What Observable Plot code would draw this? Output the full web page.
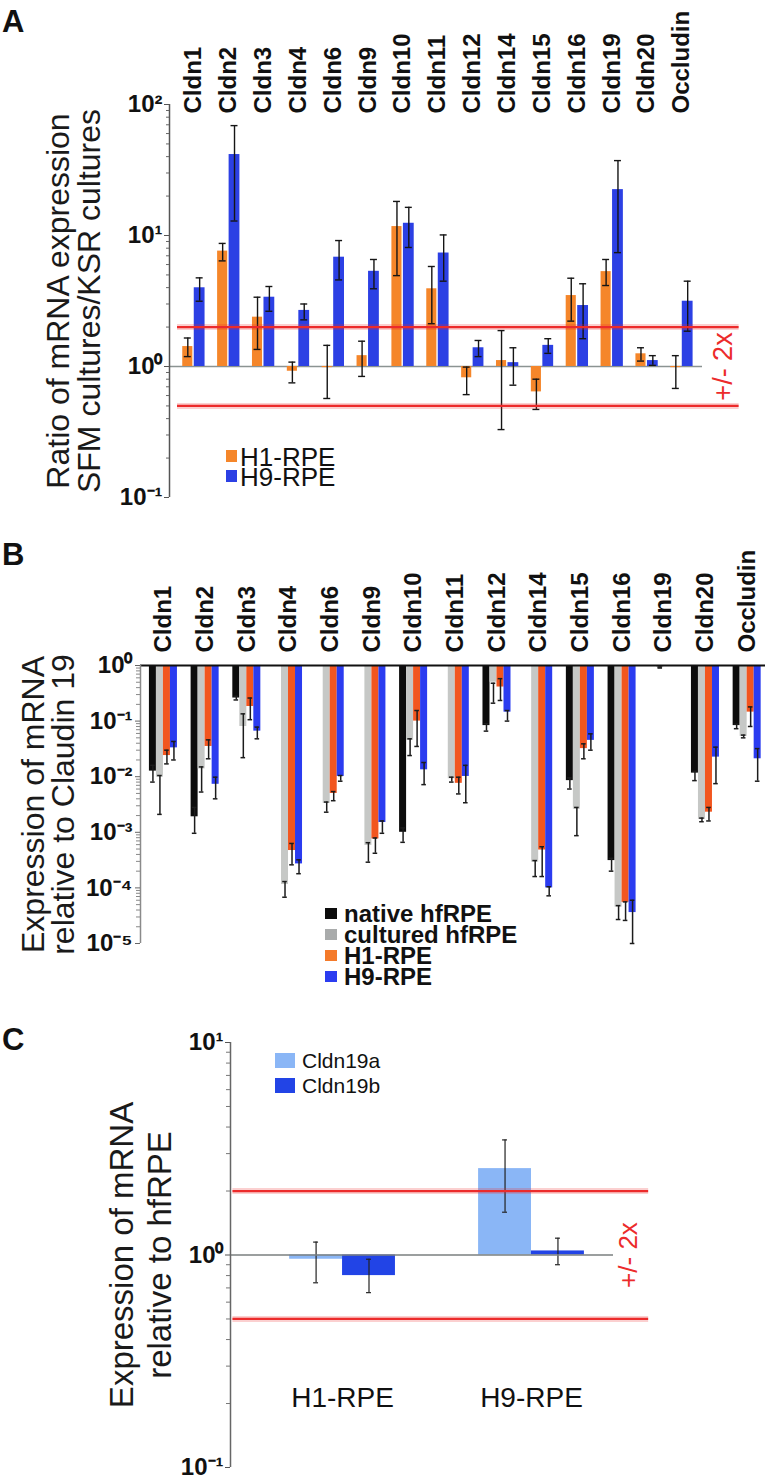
<!DOCTYPE html>
<html><head><meta charset="utf-8">
<script src="https://cdn.jsdelivr.net/npm/d3@7"></script>
<script src="https://cdn.jsdelivr.net/npm/@observablehq/plot@0.6"></script>
<style>
body{margin:0;background:#fff;}
#wrap{position:relative;width:768px;height:1481px;overflow:hidden;font-family:Arial,"Liberation Sans",sans-serif;color:#111;}
#wrap svg{position:absolute;left:0;}
.abs{position:absolute;line-height:1;white-space:nowrap;}
.sw{position:absolute;}
</style></head><body><div id="wrap"></div>
<script>
// ---------- data ----------
const categories = ["Cldn1","Cldn2","Cldn3","Cldn4","Cldn6","Cldn9","Cldn10","Cldn11","Cldn12","Cldn14","Cldn15","Cldn16","Cldn19","Cldn20","Occludin"];

// Panel A: ratio SFM / KSR
const aH1   = [1.42, 7.6, 2.38, 0.92, 0.98, 1.21, 11.7, 3.92, 0.82, 1.11, 0.64, 3.48, 5.3, 1.25, 0.98];
const aH1Lo = [1.19, 6.4, 1.35, 0.75, 0.57, 0.84, 4.94, 2.12, 0.61, 0.33, 0.47, 2.22, 4.15, 1.10, 0.68];
const aH1Hi = [1.65, 8.7, 3.38, 1.08, 1.45, 1.56, 18.2, 5.8, 0.99, 1.88, 0.80, 4.72, 6.56, 1.39, 1.21];
const aH9   = [3.99, 41.5, 3.38, 2.68, 6.83, 5.33, 12.4, 7.35, 1.39, 1.07, 1.45, 2.92, 22.4, 1.11, 3.15];
const aH9Lo = [3.15, 12.9, 2.64, 2.27, 4.58, 3.92, 8.1, 4.48, 1.19, 0.72, 1.26, 1.63, 7.4, 1.02, 1.86];
const aH9Hi = [4.75, 69, 4.08, 3.0, 9.15, 6.56, 16.4, 10.1, 1.58, 1.39, 1.63, 4.28, 37.3, 1.21, 4.48];
const aSeriesNames = ["H1-RPE", "H9-RPE"];
const aTicks = [0.1, 1, 10, 100];

// Panel B: expression relative to Claudin 19
const bNative   = [0.0126, 0.0019, 0.26, null, null, null, 0.0010, null, 0.083, null, 0.0085, 3.1e-4, 1, 0.0116, 0.083];
const bNativeLo = [0.0080, 0.00096, 0.24, null, null, null, 6.6e-4, null, 0.066, null, 0.0060, 2.0e-4, null, 0.0085, 0.073];
const bNativeHi = [0.016, 0.0028, 0.28, null, null, null, 0.0012, null, 0.090, null, 0.0095, 3.4e-4, null, 0.0125, 0.088];
const bCult     = [0.0098, 0.0138, 0.080, 1.15e-4, 0.0033, 5.8e-4, 0.045, 0.0092, 0.50, 2.9e-4, 0.0026, 4.5e-5, 0.92, 1.7e-3, 0.053];
const bCultLo   = [0.0021, 0.0053, 0.022, 6.8e-5, 0.0023, 2.9e-4, 0.024, 0.0080, 0.21, 1.6e-4, 8.7e-4, 2.7e-5, 0.90, 1.55e-3, 0.050];
const bCultHi   = [0.0105, 0.015, 0.135, 1.3e-4, 0.0035, 6.5e-4, 0.048, 0.0098, 0.48, 3.1e-4, 0.0028, 4.8e-5, 0.94, 1.8e-3, 0.056];
const bH1       = [0.024, 0.035, 0.183, 4.7e-4, 0.0050, 7.6e-4, 0.10, 0.0076, 0.41, 4.8e-4, 0.032, 5.5e-5, 1, 2.3e-3, 0.145];
const bH1Lo     = [0.017, 0.021, 0.106, 2.6e-4, 0.0037, 4.2e-4, 0.035, 0.0049, 0.235, 1.6e-4, 0.021, 2.6e-5, null, 1.6e-3, 0.080];
const bH1Hi     = [0.030, 0.046, 0.26, 6.3e-4, 0.0054, 7.9e-4, 0.155, 0.0098, 0.58, 5.5e-4, 0.039, 5.6e-5, null, 2.8e-3, 0.18];
const bH9       = [0.033, 0.0073, 0.066, 2.7e-4, 0.0101, 1.5e-3, 0.0133, 0.0101, 0.145, 1.0e-4, 0.045, 3.6e-5, 1, 0.0225, 0.021];
const bH9Lo     = [0.020, 0.0040, 0.048, 1.8e-4, 0.0083, 9.6e-4, 0.0072, 0.0034, 0.10, 7.2e-5, 0.030, 1.0e-5, null, 0.0075, 0.0083];
const bH9Hi     = [0.043, 0.0098, 0.078, 3.2e-4, 0.0105, 1.6e-3, 0.018, 0.016, 0.155, 1.05e-4, 0.059, 6.0e-5, null, 0.034, 0.032];
const bSeriesNames = ["native hfRPE", "cultured hfRPE", "H1-RPE", "H9-RPE"];
const bTicks = [1e-5, 1e-4, 1e-3, 1e-2, 1e-1, 1];

// Panel C: expression relative to hfRPE
const cGroups = ["H1-RPE", "H9-RPE"];
const c19a   = [0.955, 2.55];
const c19aLo = [0.74, 1.59];
const c19aHi = [1.15, 3.48];
const c19b   = [0.80, 1.045];
const c19bLo = [0.665, 0.90];
const c19bHi = [0.955, 1.2];
const cSeriesNames = ["Cldn19a", "Cldn19b"];
const cTicks = [0.1, 1, 10];

// ---------- helpers ----------
const FONT = "Arial, 'Liberation Sans', sans-serif";
const RED = "#ec2b2b", HALO = "rgba(236,43,43,0.22)";
const SUP = {"0":"⁰","1":"¹","2":"²","3":"³","4":"⁴","5":"⁵","-":"⁻"};
const pow10Label = v => "10" + String(Math.round(Math.log10(v))).split("").map(c => SUP[c]).join("");
function minorTicks(e0, e1) { const t = []; for (let e = e0; e < e1; e++) for (let k = 2; k <= 9; k++) t.push(+(k * Math.pow(10, e)).toPrecision(3)); return t; }
function buildRows(cats, series) {
  return cats.flatMap((c, i) => series.map(s => ({
    i, c, s: s.name, v: s.v[i], lo: s.lo[i], hi: s.hi[i],
    x1: i + s.off[0], x2: i + s.off[1], xm: i + (s.off[0] + s.off[1]) / 2
  })));
}
function barMarks(rows, series, capHalf, errStroke, errWidth) {
  const marks = [];
  for (const s of series) {
    marks.push(Plot.rectY(rows.filter(r => r.s === s.name && r.v != null), {x1: "x1", x2: "x2", y1: () => 1, y2: "v", fill: s.color}));
  }
  const er = rows.filter(r => r.lo != null && r.hi != null);
  marks.push(Plot.ruleX(er, {x: "xm", y1: "lo", y2: "hi", stroke: errStroke, strokeWidth: errWidth}));
  marks.push(Plot.ruleY(er, {y: "lo", x1: r => r.xm - capHalf, x2: r => r.xm + capHalf, stroke: errStroke, strokeWidth: errWidth}));
  marks.push(Plot.ruleY(er, {y: "hi", x1: r => r.xm - capHalf, x2: r => r.xm + capHalf, stroke: errStroke, strokeWidth: errWidth}));
  return marks;
}
const wrap = document.getElementById("wrap");
function place(svg, top) { svg.style.top = top + "px"; wrap.appendChild(svg); }
function html(text, css) { const d = document.createElement("div"); d.className = "abs"; d.textContent = text; Object.assign(d.style, css); wrap.appendChild(d); }
function swatch(color, left, top, w, h) { const d = document.createElement("div"); d.className = "sw"; Object.assign(d.style, {left: left+"px", top: top+"px", width: w+"px", height: h+"px", background: color}); wrap.appendChild(d); }
// text line whose visual (cap) centre sits at y
function legendText(text, left, cy, size, bold) {
  const lh = Math.round(size * 0.8);
  const baseline = cy + 0.358 * size;
  const top = baseline - ((lh - 1.117 * size) / 2 + 0.905 * size);
  html(text, {left: left + "px", top: top + "px", fontSize: size + "px", lineHeight: lh + "px", fontWeight: bold ? "bold" : "normal"});
}

// ---------- Panel A ----------
const aColors = ["#f5862a", "#2c40e4"];
const aSeries = [
  {name: aSeriesNames[0], color: aColors[0], v: aH1, lo: aH1Lo, hi: aH1Hi, off: [-0.31, -0.02]},
  {name: aSeriesNames[1], color: aColors[1], v: aH9, lo: aH9Lo, hi: aH9Hi, off: [0.02, 0.33]}
];
const aRows = buildRows(categories, aSeries);
const aX = [-0.69, 14.6];
const plotA = Plot.plot({
  width: 768, height: 520, marginLeft: 169, marginRight: 66, marginTop: 104, marginBottom: 23,
  style: {fontFamily: FONT, background: "transparent", overflow: "visible"},
  x: {type: "linear", domain: aX, axis: null},
  y: {type: "log", domain: [0.1, 100]},
  marks: [
    Plot.ruleY([1], {stroke: "#8b9392", strokeWidth: 1.6}),
    ...barMarks(aRows, aSeries, 0.1, "#151515", 1.4),
    Plot.ruleY([2, 0.5], {x1: () => -0.46, x2: () => 15.65, stroke: HALO, strokeWidth: 6}),
    Plot.ruleY([2, 0.5], {x1: () => -0.46, x2: () => 15.65, stroke: RED, strokeWidth: 2.2}),
    Plot.ruleX([aX[0]], {stroke: "#555", strokeWidth: 1.5}),
    Plot.axisY({ticks: minorTicks(-1, 2), tickSize: 3, tickFormat: () => "", stroke: "#666"}),
    Plot.axisY({ticks: aTicks, tickFormat: pow10Label, tickSize: 5, tickPadding: 2, fontSize: 24, fontWeight: "bold", stroke: "#555"}),
    Plot.text(categories, {x: (d, i) => i, text: d => d, frameAnchor: "top", dy: 9, rotate: -90, textAnchor: "start", lineAnchor: "middle", fontSize: 24, fontWeight: "bold", fill: "#111"}),
    Plot.text(["Ratio of mRNA expression\nSFM cultures/KSR cultures"], {text: d => d, frameAnchor: "left", dx: -95, rotate: -90, textAnchor: "middle", lineAnchor: "middle", fontSize: 32, lineHeight: 0.97, fill: "#1a1a1a"}),
    Plot.text(["+/- 2x"], {y: () => 1, text: d => d, frameAnchor: "right", dx: 21, rotate: -90, textAnchor: "middle", lineAnchor: "middle", fontSize: 27, fill: RED})
  ]
});
place(plotA, 0);
html("A", {left: "2px", top: "6px", fontSize: "31px", fontWeight: "bold"});
swatch(aColors[0], 226, 450, 11, 12);
swatch(aColors[1], 226, 470, 11, 12);
legendText(aSeriesNames[0], 240, 457, 26, false);
legendText(aSeriesNames[1], 240, 477, 26, false);

// ---------- Panel B ----------
const bColors = ["#0c0c0c", "#c6c8c6", "#f2561f", "#2b3cf0"];
const bw = 0.168;
const bSeries = [
  {name: bSeriesNames[0], color: bColors[0], v: bNative, lo: bNativeLo, hi: bNativeHi, off: [-2*bw, -bw]},
  {name: bSeriesNames[1], color: bColors[1], v: bCult, lo: bCultLo, hi: bCultHi, off: [-bw, 0]},
  {name: bSeriesNames[2], color: bColors[2], v: bH1, lo: bH1Lo, hi: bH1Hi, off: [0, bw]},
  {name: bSeriesNames[3], color: bColors[3], v: bH9, lo: bH9Lo, hi: bH9Hi, off: [bw, 2*bw]}
];
const bRows = buildRows(categories, bSeries);
const bX = [-0.55, 14.44];
const plotB = Plot.plot({
  width: 768, height: 460, marginLeft: 140, marginRight: 3, marginTop: 145, marginBottom: 37,
  style: {fontFamily: FONT, background: "transparent", overflow: "visible"},
  x: {type: "linear", domain: bX, axis: null},
  y: {type: "log", domain: [1e-5, 1]},
  marks: [
    ...barMarks(bRows, bSeries, 0.055, "#1c1c1c", 1.5),
    Plot.ruleY([1], {stroke: "#111", strokeWidth: 2}),
    Plot.ruleX([bX[0]], {stroke: "#8a8a8a", strokeWidth: 1.5}),
    Plot.axisY({ticks: minorTicks(-5, 0), tickSize: 4, tickFormat: () => "", stroke: "#888"}),
    Plot.axisY({ticks: bTicks, tickFormat: pow10Label, tickSize: 5, tickPadding: 3, fontSize: 24, fontWeight: "bold", stroke: "#666"}),
    Plot.text(categories, {x: (d, i) => i, text: d => d, frameAnchor: "top", dy: -13, rotate: -90, textAnchor: "start", lineAnchor: "middle", fontSize: 24, fontWeight: "bold", fill: "#111"}),
    Plot.text(["Expression of mRNA\nrelative to Claudin 19"], {text: d => d, frameAnchor: "left", dx: -91, rotate: -90, textAnchor: "middle", lineAnchor: "middle", fontSize: 32, lineHeight: 0.95, fill: "#1a1a1a"})
  ]
});
place(plotB, 520);
html("B", {left: "2px", top: "539px", fontSize: "31px", fontWeight: "bold"});
const bLegColors = ["#0c0c0c", "#a9abab", "#f47a2a", "#2b3cf0"];
const bLegY = [913, 934, 955, 976];
bSeriesNames.forEach((n, k) => {
  swatch(bLegColors[k], 325, bLegY[k] - 5, 12, 11);
  legendText(n, 344, bLegY[k], 24, true);
});

// ---------- Panel C ----------
const cColors = ["#8ab6f6", "#2244e6"];
const cw = 0.28;
const cSeries = [
  {name: cSeriesNames[0], color: cColors[0], v: c19a, lo: c19aLo, hi: c19aHi, off: [-cw, 0]},
  {name: cSeriesNames[1], color: cColors[1], v: c19b, lo: c19bLo, hi: c19bHi, off: [0, cw]}
];
const cRows = buildRows(cGroups, cSeries);
const cX = [-0.593, 1.434];
const plotC = Plot.plot({
  width: 768, height: 501, marginLeft: 230, marginRight: 155, marginTop: 62, marginBottom: 14,
  style: {fontFamily: FONT, background: "transparent", overflow: "visible"},
  x: {type: "linear", domain: cX, axis: null},
  y: {type: "log", domain: [0.1, 10]},
  marks: [
    ...barMarks(cRows, cSeries, 0.013, "#222", 1.2),
    Plot.ruleY([1], {stroke: "#7a7f7f", strokeWidth: 1.5}),
    Plot.ruleY([2, 0.5], {x1: () => -0.58, x2: () => 1.62, stroke: HALO, strokeWidth: 6}),
    Plot.ruleY([2, 0.5], {x1: () => -0.58, x2: () => 1.62, stroke: RED, strokeWidth: 2.2}),
    Plot.ruleX([cX[0]], {stroke: "#666", strokeWidth: 1.5}),
    Plot.axisY({ticks: minorTicks(-1, 1), tickSize: 4, tickFormat: () => "", stroke: "#777"}),
    Plot.axisY({ticks: cTicks, tickFormat: pow10Label, tickSize: 5, tickPadding: 2, fontSize: 24, fontWeight: "bold", stroke: "#555"}),
    Plot.text(cGroups, {x: (d, i) => i, text: d => d, frameAnchor: "bottom", dy: -69, textAnchor: "middle", lineAnchor: "middle", fontSize: 28, fill: "#111"}),
    Plot.text(["Expression of mRNA\nrelative to hfRPE"], {text: d => d, frameAnchor: "left", dx: -91, rotate: -90, textAnchor: "middle", lineAnchor: "middle", fontSize: 33, lineHeight: 1.15, fill: "#1a1a1a"}),
    Plot.text(["+/- 2x"], {y: () => 1, text: d => d, frameAnchor: "right", dx: 15, rotate: -90, textAnchor: "middle", lineAnchor: "middle", fontSize: 26, fill: RED})
  ]
});
place(plotC, 980);
html("C", {left: "2px", top: "1024px", fontSize: "31px", fontWeight: "bold"});
swatch(cColors[0], 275, 1053, 20, 15);
swatch(cColors[1], 275, 1078, 20, 15);
legendText(cSeriesNames[0], 302, 1060, 21, false);
legendText(cSeriesNames[1], 302, 1085, 21, false);
</script></body></html>
